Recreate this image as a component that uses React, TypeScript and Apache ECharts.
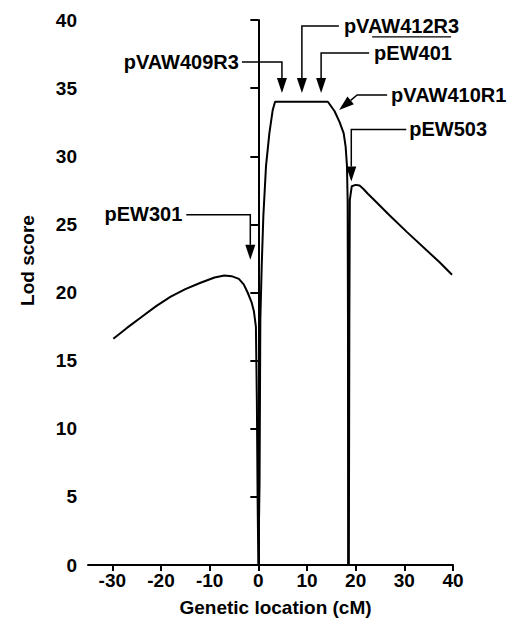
import React, { useEffect, useRef } from "react";
import * as echarts from "echarts";

// Genetic location (cM) and lod score along the curve
const genLoc = [
  -29.8, -27, -24, -21, -18, -15, -12, -9, -7, -5.5, -4, -3, -2.2, -1.4, -0.9, -0.5, -0.3, -0.15, 0,
  0.25, 0.41, 0.69, 1.03, 1.58, 2.27, 2.96, 3.44, 14.29, 15.67, 16.7, 17.53, 17.94, 18.21, 18.35,
  18.42, 18.45, 18.6, 18.7, 18.8, 19.2, 20.0, 20.8, 21.6, 22.5, 23.5, 27.0, 30.5, 37.3, 39.8,
];
const lodScore = [
  16.6, 17.4, 18.2, 19.0, 19.7, 20.25, 20.7, 21.1, 21.25, 21.2, 21.0, 20.6, 20.0, 19.3, 18.6, 17.5, 12, 5, 0,
  6, 18, 21.9, 25.6, 29.3, 31.7, 33.4, 34.0, 34.0, 33.3, 32.5, 31.7, 30.7, 29.3, 26.8,
  18, 0, 0, 18, 26.8, 27.8, 27.9, 27.85, 27.6, 27.25, 26.9, 25.65, 24.45, 22.2, 21.3,
];

const xTicks = [-30, -20, -10, 0, 10, 20, 30, 40];

// Markers (arrow tips in data coordinates)
const markerNames = ["pVAW409R3", "pVAW412R3", "pEW401", "pVAW410R1", "pEW503", "pEW301"];
const markerX = [4.85, 8.95, 12.9, 16.6, 19.1, -1.65];
const markerY = [34.65, 34.65, 34.65, 33.4, 28.15, 22.4];

// Label layout (pixel offsets from arrow tip)
const markerLayout: any[] = [
  { route: [[0, 0], [0, -31], [-40, -31]], text: [-43, -31], align: "right" },
  { route: [[0, 0], [0, -67], [37, -67]], text: [42, -67], align: "left" },
  { route: [[0, 0], [0, -40], [48, -40]], text: [53, -40], align: "left", overline: [51, 130, -56] },
  { route: [[0, 0], [18, -15], [48, -15]], text: [52, -15], align: "left" },
  { route: [[0, 0], [0, -52], [55, -52]], text: [58, -52], align: "left" },
  { route: [[0, 0], [0, -45], [-64, -45]], text: [-68, -46], align: "right" },
];

const FONT = "'Liberation Sans', Arial, Helvetica, sans-serif";

export default function App() {
  const ref = useRef<HTMLDivElement>(null);
  useEffect(() => {
    document.body.style.margin = "0";
    const chart = echarts.init(ref.current!, null, { renderer: "svg" });
    const option: any = {
      animation: false,
      backgroundColor: "#fff",
      grid: { left: 88, right: 64, top: 20, bottom: 56 },
      xAxis: {
        type: "value",
        min: -35,
        max: 40,
        name: "Genetic location (cM)",
        nameLocation: "middle",
        nameGap: 33,
        nameTextStyle: { fontSize: 19, fontWeight: "bold", fontFamily: FONT, color: "#000", padding: [0, 0, 0, 10] },
        axisLine: { show: true, onZero: false, lineStyle: { color: "#000", width: 2 } },
        axisTick: { show: true, length: 6, customValues: xTicks, lineStyle: { color: "#000", width: 2 } },
        axisLabel: { customValues: xTicks, margin: 6, fontSize: 19, fontWeight: "bold", fontFamily: FONT, color: "#000" },
        splitLine: { show: false },
      },
      yAxis: {
        type: "value",
        min: 0,
        max: 40,
        interval: 5,
        name: "Lod score",
        nameLocation: "middle",
        nameGap: 51,
        nameRotate: 90,
        nameTextStyle: { fontSize: 19, fontWeight: "bold", fontFamily: FONT, color: "#000", padding: [0, 0, 0, 64] },
        axisLine: { show: true, lineStyle: { color: "#000", width: 2 } },
        axisTick: { show: true, length: 8, lineStyle: { color: "#000", width: 2 } },
        axisLabel: { margin: 11, fontSize: 19, fontWeight: "bold", fontFamily: FONT, color: "#000" },
        splitLine: { show: false },
      },
      series: [
        {
          type: "line",
          data: genLoc.map((x, i) => [x, lodScore[i]]),
          symbol: "none",
          lineStyle: { color: "#000", width: 2 },
          silent: true,
        },
        {
          type: "custom",
          clip: false,
          silent: true,
          data: markerX.map((x, i) => [x, markerY[i], i]),
          renderItem: (params: any, api: any) => {
            const i = api.value(2);
            const tip = api.coord([api.value(0), api.value(1)]);
            const L = markerLayout[i];
            const pts = L.route.map(([dx, dy]: number[]) => [tip[0] + dx, tip[1] + dy]);
            const [tx, ty] = pts[0];
            const [ax, ay] = pts[1];
            const len = Math.hypot(tx - ax, ty - ay);
            const ux = (tx - ax) / len;
            const uy = (ty - ay) / len;
            const hl = 15;
            const hw = 5;
            const bx = tx - ux * hl;
            const by = ty - uy * hl;
            const head = [
              [tx, ty],
              [bx - uy * hw, by + ux * hw],
              [bx + uy * hw, by - ux * hw],
            ];
            const linePts = [[bx, by], ...pts.slice(1)];
            const children: any[] = [
              { type: "polyline", shape: { points: linePts }, style: { stroke: "#000", lineWidth: 1.5, fill: null } },
              { type: "polygon", shape: { points: head }, style: { fill: "#000" } },
              {
                type: "text",
                style: {
                  text: markerNames[i],
                  x: tip[0] + L.text[0],
                  y: tip[1] + L.text[1],
                  align: L.align,
                  verticalAlign: "middle",
                  fontSize: 20,
                  fontWeight: "bold",
                  fontFamily: FONT,
                  fill: "#000",
                },
              },
            ];
            if (L.overline) {
              children.push({
                type: "line",
                shape: {
                  x1: tip[0] + L.overline[0],
                  y1: tip[1] + L.overline[2],
                  x2: tip[0] + L.overline[1],
                  y2: tip[1] + L.overline[2],
                },
                style: { stroke: "#000", lineWidth: 1.2 },
              });
            }
            return { type: "group", children };
          },
        },
      ],
    };
    chart.setOption(option);
    return () => chart.dispose();
  }, []);
  return <div ref={ref} style={{ width: 517, height: 622 }} />;
}
